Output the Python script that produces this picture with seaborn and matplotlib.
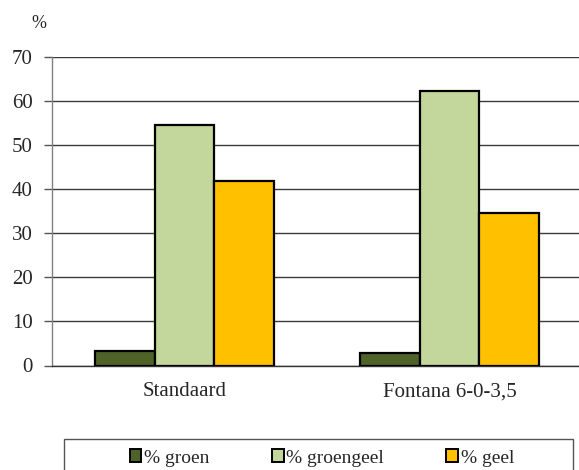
import matplotlib
matplotlib.use("Agg")
import matplotlib.pyplot as plt
from matplotlib.patches import Patch, Rectangle
import seaborn as sns
import pandas as pd

categories = ["Standaard", "Fontana 6-0-3,5"]
series = ["% groen", "% groengeel", "% geel"]
groen = [3.2, 2.9]
groengeel = [54.7, 62.3]
geel = [42.0, 34.6]
yticks = [0, 10, 20, 30, 40, 50, 60, 70]
colors = ["#4F6228", "#C3D69B", "#FFC000"]

rows = []
for name, vals in zip(series, [groen, groengeel, geel]):
    for cat, v in zip(categories, vals):
        rows.append({"cat": cat, "series": name, "val": v})
df = pd.DataFrame(rows)

sns.set_style("white")
plt.rcParams["font.family"] = ["Liberation Serif", "DejaVu Serif"]

fig = plt.figure(figsize=(5.79, 4.70), dpi=100)
ax = fig.add_axes([52 / 579, (470 - 365.5) / 470, 530 / 579, (365.5 - 57.3) / 470])

sns.barplot(data=df, x="cat", y="val", hue="series", order=categories,
            hue_order=series, palette=colors, saturation=1, width=0.675,
            edgecolor="black", linewidth=1.6, ax=ax, legend=False, zorder=3)

ax.set_xlim(-0.5, 1.5)
ax.set_ylim(0, 70)
ax.set_yticks(yticks)
ax.set_yticklabels([str(t) for t in yticks], fontsize=15)
ax.yaxis.grid(True, color="#3a3a3a", linewidth=1.0, zorder=0)
ax.set_axisbelow(True)
ax.set_xlabel("")
ax.set_ylabel("")

# category labels centred, with boundary ticks between the groups
ax.set_xticks([0, 1])
ax.set_xticklabels(categories, fontsize=15)
ax.set_xticks([-0.5, 0.5], minor=True)
ax.tick_params(axis="x", which="major", length=0, pad=12)
ax.tick_params(axis="x", which="minor", length=6, width=1, color="#555555", direction="out")
ax.tick_params(axis="y", which="major", length=6, width=1, color="#555555", direction="out", pad=8, left=True)

for side in ["top", "right"]:
    ax.spines[side].set_visible(False)
ax.spines["left"].set_color("#808080")
ax.spines["left"].set_linewidth(1.0)
ax.spines["left"].set_bounds(0, 70)
ax.spines["bottom"].set_color("#333333")
ax.spines["bottom"].set_linewidth(1.0)

fig.text(39 / 579, 1 - 23 / 470, "%", fontsize=13, ha="center", va="center")

# legend frame along the bottom edge
fig.patches.append(Rectangle((64 / 579, -0.05), (573 - 64) / 579, 0.05 + (470 - 439) / 470,
                             transform=fig.transFigure, fill=False,
                             edgecolor="#555555", linewidth=1.0))
handles = [Patch(facecolor=c, edgecolor="black", linewidth=1.4) for c in colors]
fig.legend(handles, series, loc="center", bbox_to_anchor=(322 / 579, 1 - 458 / 470),
           ncol=3, frameon=False, fontsize=14, handlelength=0.6, handleheight=0.6,
           handletextpad=0.15, columnspacing=3.2)

fig.savefig("out.png", dpi=100)
